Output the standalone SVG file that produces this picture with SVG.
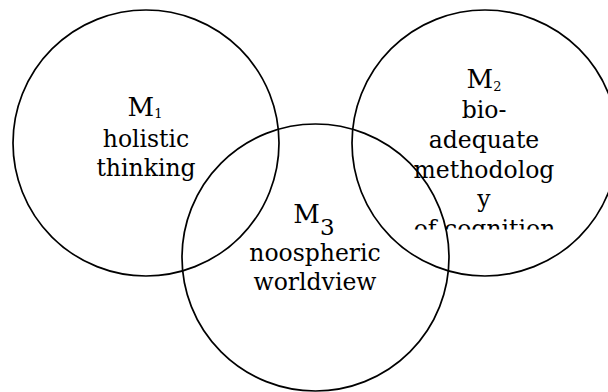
<svg xmlns="http://www.w3.org/2000/svg" width="608" height="392" viewBox="0 0 608 392">
  <style>
    .ring { fill: none; stroke: #000; stroke-width: 1.7; }
    .lbl { font-family: "DejaVu Serif", "Liberation Serif", serif; font-size: 23.5px; fill: #000; text-anchor: middle; }
    .big { font-size: 26px; }
    .sub { font-size: 13px; }
  </style>
  <defs>
    <clipPath id="clipM2">
      <rect x="340" y="40" width="280" height="189.5"/>
    </clipPath>
  </defs>
  <g id="M1">
    <circle class="ring" cx="146" cy="143" r="133"/>
    <text class="lbl"><tspan class="big" x="145" y="115.7">M</tspan><tspan class="sub" dy="2.5">1</tspan></text>
    <text class="lbl" x="146" y="147">holistic</text>
    <text class="lbl" x="146" y="175.5">thinking</text>
  </g>
  <g id="M2">
    <circle class="ring" cx="485" cy="143" r="133"/>
    <text class="lbl"><tspan class="big" x="484" y="88.3">M</tspan><tspan class="sub" dy="2.7">2</tspan></text>
    <text class="lbl" x="484" y="118">bio-</text>
    <text class="lbl" x="484" y="148">adequate</text>
    <text class="lbl" x="484" y="177.5">methodolog</text>
    <text class="lbl" x="484" y="207">y</text>
    <text class="lbl" x="484.5" y="237" clip-path="url(#clipM2)">of cognition</text>
  </g>
  <g id="M3">
    <circle class="ring" cx="315.5" cy="257.5" r="133.5"/>
    <text class="lbl"><tspan class="big" x="314" y="223">M</tspan><tspan font-size="23" dy="12">3</tspan></text>
    <text class="lbl" x="315" y="261">noospheric</text>
    <text class="lbl" x="315" y="290">worldview</text>
  </g>
  <g id="connectors"/>
</svg>
